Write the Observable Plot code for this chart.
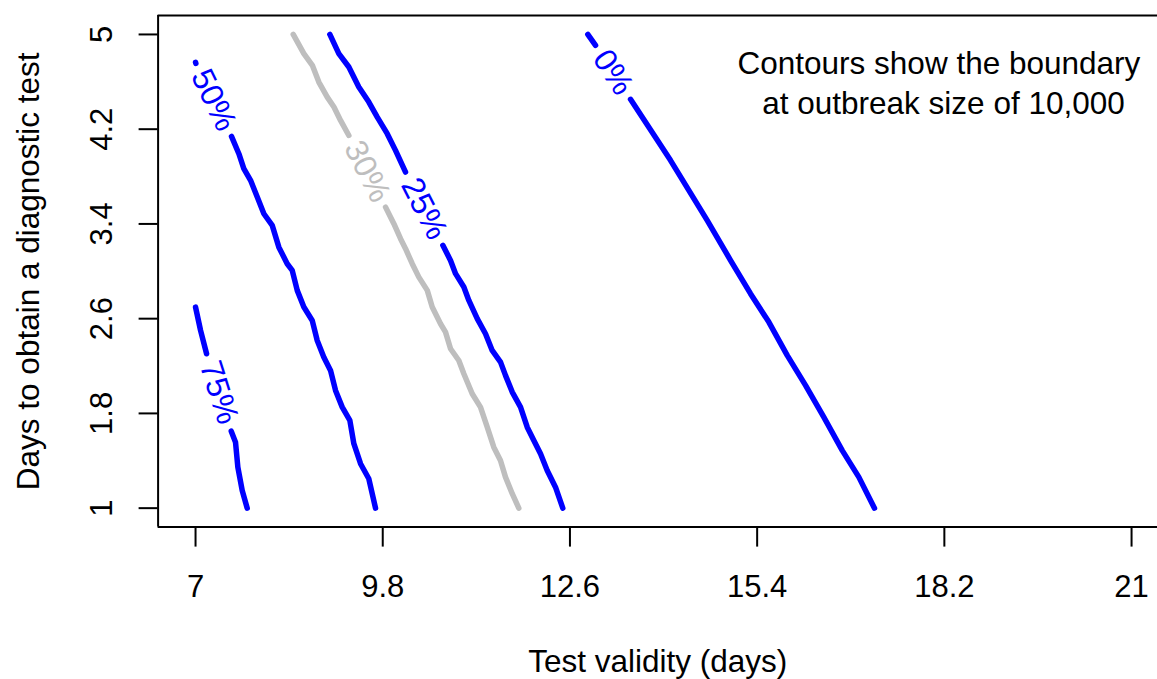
<!DOCTYPE html>
<html><head><meta charset="utf-8">
<script src="https://cdn.jsdelivr.net/npm/d3@7"></script>
<script src="https://cdn.jsdelivr.net/npm/@observablehq/plot@0.6"></script>
<style>html,body{margin:0;padding:0;background:#fff;overflow:hidden}</style>
</head><body><div id="chart"></div>
<script>
// Tick labels
const xTicks = [7, 9.8, 12.6, 15.4, 18.2, 21];
const yTicks = [1, 1.8, 2.6, 3.4, 4.2, 5];
const levels = ["75%", "50%", "30%", "25%", "0%"];
const xTitle = "Test validity (days)";
const yTitle = "Days to obtain a diagnostic test";
const noteLine1 = "Contours show the boundary";
const noteLine2 = "at outbreak size of 10,000";

// Contour lines [test validity, days to test]; null = gap where the label sits
const contour75 = [[7.0,2.698],[7.075,2.501],[7.165,2.304],null,
  [7.534,1.650],[7.598,1.557],[7.633,1.346],[7.698,1.149],[7.773,1.0]];
const contour50 = [[7.0,4.765],[7.005,4.755],null,
  [7.538,4.139],[7.648,3.993],[7.722,3.867],[7.823,3.768],[7.923,3.627],[8.022,3.486],
  [8.147,3.388],[8.246,3.204],[8.371,3.064],[8.446,3.008],[8.521,2.839],[8.620,2.698],
  [8.745,2.585],[8.820,2.416],[8.919,2.275],[9.019,2.163],[9.094,1.994],[9.194,1.853],
  [9.308,1.741],[9.368,1.544],[9.468,1.375],[9.592,1.248],[9.692,1.0]];
const contour30 = [[8.461,5.0],[8.620,4.838],[8.747,4.739],[8.844,4.598],[8.970,4.471],
  [9.070,4.387],[9.169,4.274],[9.293,4.147],null,
  [9.842,3.542],[9.966,3.402],[10.066,3.275],[10.141,3.191],[10.241,3.064],[10.340,2.951],
  [10.466,2.839],[10.540,2.698],[10.664,2.557],[10.739,2.486],[10.814,2.346],[10.938,2.247],
  [11.013,2.135],[11.138,1.966],[11.262,1.853],[11.363,1.684],[11.461,1.515],[11.561,1.403],
  [11.636,1.262],[11.737,1.122],[11.835,1.0]];
const contour25 = [[9.009,5.0],[9.143,4.838],[9.293,4.725],[9.442,4.556],[9.592,4.429],
  [9.718,4.302],[9.867,4.162],[9.991,4.021],[10.141,3.838],null,
  [10.699,3.219],[10.814,3.092],[10.889,2.980],[11.013,2.867],[11.088,2.754],[11.213,2.600],
  [11.337,2.473],[11.437,2.332],[11.562,2.233],[11.636,2.121],[11.737,1.980],[11.861,1.853],
  [11.961,1.684],[12.060,1.572],[12.160,1.459],[12.260,1.318],[12.384,1.177],[12.493,1.0]];
const contour0 = [[12.867,5.0],[12.983,4.908],null,
  [13.506,4.452],[14.104,3.937],[14.653,3.430],[15.002,3.093],[15.301,2.811],[15.575,2.571],
  [15.850,2.290],[16.124,2.037],[16.397,1.769],[16.672,1.488],[16.921,1.262],[17.155,1.0]];

const contours = [contour75, contour50, contour30, contour25, contour0];

// Scales (R-style 4% padding)
const xDomain = [6.44, 21.56], xRange = [157.6, 1168.5];
const yDomain = [0.84, 5.16], yRange = [526.6, 15];
const kx = (xRange[1] - xRange[0]) / (xDomain[1] - xDomain[0]);
const ky = (yRange[0] - yRange[1]) / (yDomain[1] - yDomain[0]);

const rows = [];
const labels = [];
contours.forEach((c, k) => {
  c.forEach((p, i) => {
    rows.push(p ? {level: levels[k], x: p[0], y: p[1]} : {level: levels[k], x: NaN, y: NaN});
    if (!p) {
      const a = c[i - 1], b = c[i + 1];
      labels.push({
        level: levels[k],
        x: (a[0] + b[0]) / 2,
        y: (a[1] + b[1]) / 2,
        angle: Math.atan2((a[1] - b[1]) * ky, (b[0] - a[0]) * kx) * 180 / Math.PI
      });
    }
  });
});

const BLUE = "#0000ff", GRAY = "#bebebe";
const font = "'Liberation Sans', Arial, Helvetica, sans-serif";

const chart = Plot.plot({
  width: 1157,
  height: 679,
  marginLeft: 157.6,
  marginRight: 0,
  marginTop: 15,
  marginBottom: 152.4,
  style: {fontFamily: font, background: "white", color: "black"},
  x: {domain: xDomain, range: xRange},
  y: {domain: yDomain, range: yRange},
  marks: [
    Plot.ruleY([yDomain[0], yDomain[1]], {stroke: "black", strokeWidth: 2}),
    Plot.ruleX([xDomain[0]], {stroke: "black", strokeWidth: 2}),
    Plot.axisX({ticks: xTicks, tickSize: 20, tickPadding: 28, fontSize: 31, strokeWidth: 2, label: null, tickFormat: d => String(d)}),
    Plot.axisY({ticks: yTicks, tickSize: 19, strokeWidth: 2, text: null, label: null}),
    Plot.text(yTicks, {x: xDomain[0], y: d => d, text: d => String(d), rotate: -90, dx: -46, fontSize: 31, textAnchor: "middle", lineAnchor: "bottom", fill: "black"}),
    Plot.line(rows.filter(d => d.level !== "30%"), {x: "x", y: "y", z: "level", stroke: BLUE, strokeWidth: 5.5, strokeLinecap: "round", strokeLinejoin: "round"}),
    Plot.line(rows.filter(d => d.level === "30%"), {x: "x", y: "y", z: "level", stroke: GRAY, strokeWidth: 5.5, strokeLinecap: "round", strokeLinejoin: "round"}),
    Plot.text(labels.filter(d => d.level !== "30%"), {x: "x", y: "y", text: "level", rotate: "angle", fill: BLUE, fontSize: 32, textAnchor: "middle", lineAnchor: "middle"}),
    Plot.text(labels.filter(d => d.level === "30%"), {x: "x", y: "y", text: "level", rotate: "angle", fill: GRAY, fontSize: 32, textAnchor: "middle", lineAnchor: "middle"}),
    Plot.text([xTitle], {frameAnchor: "bottom", text: d => d, dy: 145, fontSize: 31.5, textAnchor: "middle", lineAnchor: "bottom", fill: "black"}),
    Plot.text([yTitle], {frameAnchor: "left", text: d => d, rotate: -90, dx: -119.6, fontSize: 31.5, textAnchor: "middle", lineAnchor: "bottom", fill: "black"}),
    Plot.text([noteLine1], {frameAnchor: "top-right", text: d => d, dx: -218.6, dy: 58.3, fontSize: 31.5, textAnchor: "middle", lineAnchor: "bottom", fill: "black"}),
    Plot.text([noteLine2], {frameAnchor: "top-right", text: d => d, dx: -214, dy: 98.3, fontSize: 31.5, textAnchor: "middle", lineAnchor: "bottom", fill: "black"})
  ]
});
document.getElementById("chart").appendChild(chart);
</script>
</body></html>
